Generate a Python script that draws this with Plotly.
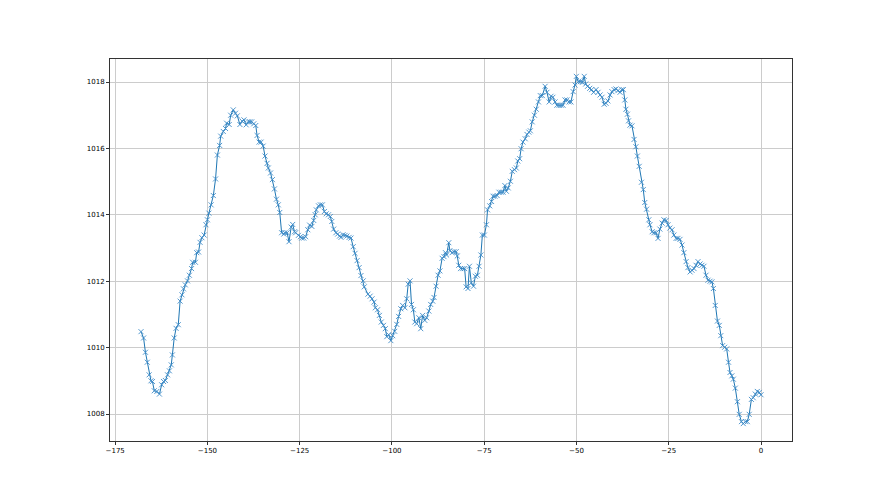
import plotly.graph_objects as go

# Hours relative to now
hours = [
    -168.0, -167.3, -166.8, -166.3, -165.8, -165.3, -164.9, -164.4, -163.7, -163.0,
    -162.4, -161.9, -161.4, -160.8, -160.3, -159.8, -159.5, -159.0, -158.5, -157.9,
    -157.4, -156.9, -156.5, -156.0, -155.4, -154.9, -154.3, -154.0, -153.25, -152.9,
    -152.4, -152.0, -151.5, -150.9, -150.4, -150.0, -149.6, -149.0, -148.4, -147.8,
    -147.3, -146.7, -146.4, -145.7, -145.1, -144.8, -144.1, -143.7, -143.0, -142.4,
    -141.9, -141.2, -140.6, -140.1, -139.5, -138.9,
    -138.5, -138.0, -137.45, -136.9, -136.55, -136.0, -135.46, -134.9, -134.4, -133.84,
    -133.5, -132.9, -132.4, -131.85, -131.3, -130.8, -130.4, -129.9, -129.3, -129.0,
    -128.4, -127.9, -127.3, -126.9, -126.4, -126.1, -125.35, -124.8, -124.45, -123.9,
    -123.4, -122.8, -122.3, -121.7, -121.2, -120.8, -120.5, -119.9, -119.4, -118.85,
    -118.3, -117.8, -117.2, -116.7, -116.3, -115.8, -115.2, -114.7, -114.2, -113.8,
    -113.25, -112.7, -112.2, -111.6, -111.1, -110.5, -110.0, -109.45, -108.9, -108.4,
    -107.8, -107.5,
    -106.5, -105.9, -105.4, -104.85, -104.5, -103.9, -103.4, -102.9, -102.3, -101.8,
    -101.4, -100.9, -100.3, -99.8, -99.25, -98.7, -98.2, -97.6, -97.1, -96.5,
    -96.0, -95.6, -95.1, -94.7, -94.2, -93.8, -93.3, -92.7, -92.2, -91.7,
    -91.1, -90.6, -90.0, -89.5, -88.95, -88.6, -88.05, -87.5, -87.0, -86.4,
    -85.9, -85.5, -85.2, -84.6, -84.3, -83.7, -83.2, -82.6, -82.3, -81.9,
    -81.4, -80.8, -80.3, -79.9, -79.4, -79.0, -78.5, -77.9, -77.4, -76.85,
    -76.4,
    -75.9, -75.5, -74.96, -74.4, -74.1, -73.5, -73.0, -72.6, -72.1, -71.5,
    -71.0, -70.45, -69.9, -69.4, -69.0, -68.5, -67.9, -67.4, -66.8, -66.3,
    -65.9, -65.4, -65.0, -64.5, -63.9, -63.4, -62.9, -62.5, -62.0, -61.4,
    -60.9, -60.3, -59.8, -59.25, -58.5, -58.0, -57.4, -56.9, -56.4, -55.8,
    -55.3, -54.7, -54.2, -53.65, -53.1, -52.6, -52.0, -51.5, -50.9, -50.4,
    -50.04, -49.5, -48.96, -48.4, -47.9, -47.5, -47.0, -46.4, -45.9, -45.35,
    -44.7, -44.16, -43.6, -43.08, -42.5, -42.0, -41.5, -40.9, -40.4, -39.8,
    -39.3, -38.75, -38.2, -37.7, -37.3, -36.9, -36.6, -36.2, -35.9, -35.5,
    -34.96, -34.4, -33.9, -33.5, -33.0, -32.4, -31.9, -31.5, -31.0, -30.4,
    -30.1, -29.5, -29.0, -28.45, -27.9, -27.4, -26.8, -26.3, -25.7, -25.2,
    -24.7, -24.1, -23.6, -23.0, -22.5, -21.95, -21.4, -20.9, -20.3, -19.8,
    -19.2, -18.7, -18.15, -17.6, -17.07, -16.5, -16.0, -15.45, -14.9, -14.36,
    -13.8, -13.3, -12.9, -12.4, -11.8, -11.3, -10.9, -10.4, -9.85, -9.3,
    -8.8, -8.4, -7.9, -7.5, -6.96, -6.4, -5.9, -5.3, -4.8, -4.25,
    -3.7, -3.2, -2.6, -2.1, -1.54, -1.0, -0.46, 0.0,
]

# Pressure (hPa)
pressure = [
    1010.48, 1010.29, 1009.86, 1009.56, 1009.18, 1009.00, 1008.98, 1008.70, 1008.68, 1008.60,
    1008.88, 1008.98, 1009.01, 1009.18, 1009.30, 1009.48, 1009.78, 1010.29, 1010.58, 1010.69,
    1011.40, 1011.59, 1011.77, 1011.89, 1012.01, 1012.18, 1012.38, 1012.57, 1012.57, 1012.86,
    1012.88, 1013.17, 1013.31, 1013.39, 1013.70, 1013.85, 1014.05, 1014.30, 1014.58, 1015.08,
    1015.80, 1016.09, 1016.37, 1016.51, 1016.60, 1016.76, 1016.72, 1017.00, 1017.16, 1017.06,
    1016.98, 1016.72, 1016.82, 1016.86, 1016.71, 1016.80,
    1016.80, 1016.80, 1016.74, 1016.69, 1016.39, 1016.19, 1016.19, 1016.07, 1015.77, 1015.55,
    1015.41, 1015.26, 1015.06, 1014.78, 1014.47, 1014.30, 1014.07, 1013.46, 1013.42, 1013.46,
    1013.46, 1013.19, 1013.63, 1013.71, 1013.49, 1013.46, 1013.38, 1013.34, 1013.30, 1013.30,
    1013.34, 1013.55, 1013.69, 1013.65, 1013.83, 1014.00, 1014.15, 1014.27, 1014.30, 1014.30,
    1014.10, 1014.03, 1014.00, 1013.95, 1013.80, 1013.57, 1013.46, 1013.42, 1013.36, 1013.32,
    1013.40, 1013.38, 1013.36, 1013.32, 1013.30, 1013.04, 1012.84, 1012.62, 1012.41, 1012.17,
    1012.01, 1011.83,
    1011.61, 1011.55, 1011.47, 1011.37, 1011.20, 1011.14, 1010.97, 1010.77, 1010.67, 1010.57,
    1010.33, 1010.39, 1010.21, 1010.36, 1010.49, 1010.70, 1010.94, 1011.17, 1011.27, 1011.20,
    1011.47, 1011.91, 1012.01, 1011.30, 1011.14, 1010.77, 1010.72, 1010.90, 1010.57, 1010.97,
    1010.82, 1010.90, 1011.10, 1011.30, 1011.40, 1011.51, 1011.85, 1012.18, 1012.31, 1012.69,
    1012.74, 1012.86, 1012.79, 1013.16, 1012.92, 1012.86, 1012.89, 1012.89, 1012.76, 1012.48,
    1012.38, 1012.38, 1012.38, 1011.83, 1011.78, 1012.45, 1011.95, 1011.85, 1012.15, 1012.18,
    1012.45,
    1012.79, 1013.39, 1013.39, 1013.70, 1014.15, 1014.27, 1014.40, 1014.56, 1014.56, 1014.58,
    1014.68, 1014.68, 1014.68, 1014.88, 1014.71, 1014.81, 1015.01, 1015.31, 1015.36, 1015.41,
    1015.62, 1015.69, 1015.99, 1016.19, 1016.29, 1016.42, 1016.49, 1016.53, 1016.80, 1017.00,
    1017.18, 1017.40, 1017.59, 1017.59, 1017.87, 1017.69, 1017.40, 1017.57, 1017.54, 1017.40,
    1017.30, 1017.30, 1017.30, 1017.30, 1017.46, 1017.46, 1017.40, 1017.40, 1017.71, 1017.91,
    1018.17, 1018.01, 1018.01, 1017.99, 1018.17, 1017.94, 1017.87, 1017.81, 1017.77, 1017.69,
    1017.77, 1017.69, 1017.61, 1017.54, 1017.33, 1017.36, 1017.43, 1017.61, 1017.71, 1017.77,
    1017.79, 1017.74, 1017.69, 1017.77, 1017.77, 1017.46, 1017.18, 1017.03, 1016.83, 1016.70,
    1016.68, 1016.27, 1016.05, 1015.77, 1015.46, 1014.98, 1014.76, 1014.37, 1014.17, 1013.85,
    1013.70, 1013.49, 1013.46, 1013.46, 1013.29, 1013.57, 1013.75, 1013.85, 1013.83, 1013.70,
    1013.60, 1013.55, 1013.39, 1013.29, 1013.29, 1013.26, 1013.09, 1012.86, 1012.59, 1012.41,
    1012.28, 1012.33, 1012.38, 1012.48, 1012.59, 1012.52, 1012.48, 1012.45, 1012.18, 1012.03,
    1012.00, 1011.98, 1011.78, 1011.27, 1010.80, 1010.67, 1010.36, 1010.06, 1010.01, 1009.96,
    1009.56, 1009.25, 1009.15, 1009.05, 1008.78, 1008.37, 1007.99, 1007.77, 1007.71, 1007.77,
    1007.77, 1007.99, 1008.44, 1008.49, 1008.60, 1008.68, 1008.65, 1008.58,
]

x_ticks = [-175, -150, -125, -100, -75, -50, -25, 0]
y_ticks = [1008, 1010, 1012, 1014, 1016, 1018]

color = "#1f77b4"

fig = go.Figure(
    go.Scatter(
        x=hours,
        y=pressure,
        mode="lines+markers",
        line=dict(color=color, width=1),
        marker=dict(symbol="x-thin", size=5, line=dict(color="#3f8cc8", width=0.9)),
        showlegend=False,
    )
)

xmin, xmax = min(hours), max(hours)
ymin, ymax = min(pressure), max(pressure)
xpad = (xmax - xmin) * 0.05
ypad = (ymax - ymin) * 0.05

axis_common = dict(
    showline=True,
    linecolor="#333333",
    linewidth=1,
    mirror=True,
    showgrid=True,
    gridcolor="#cccccc",
    gridwidth=1,
    zeroline=False,
    ticks="outside",
    ticklen=3,
    tickwidth=1,
    tickcolor="#333333",
    tickfont=dict(family="DejaVu Sans", size=7, color="black"),
)

fig.update_xaxes(range=[xmin - xpad, xmax + xpad], tickvals=x_ticks, **axis_common)
fig.update_yaxes(range=[ymin - ypad, ymax + ypad], tickvals=y_ticks, **axis_common)

fig.update_layout(
    width=880,
    height=495,
    margin=dict(l=102, r=96, t=51, b=62),
    paper_bgcolor="white",
    plot_bgcolor="white",
    font=dict(family="DejaVu Sans", size=7, color="black"),
)

fig.write_html("out.html")
